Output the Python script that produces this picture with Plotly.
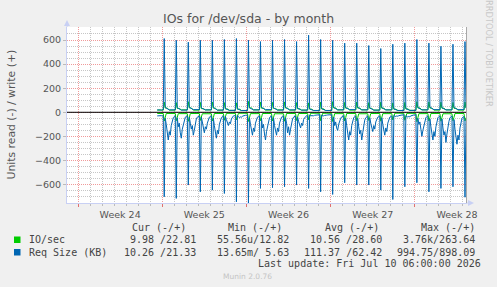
import plotly.graph_objects as go
import pandas as pd

# ---------------- data ----------------
first_sample = "2026-06-14 14:00"      # first stored sample
first_peak = "2026-06-15 04:00"        # daily peak time (one per day)
last_update = "2026-07-10 06:00"
range_start = "2026-06-07 02:00"
range_end = "2026-07-10 08:00"

# Req Size (KB): write (+) and read (-) daily peaks
req_write_peak = [612, 598, 582, 598, 598, 604, 612, 598, 587, 598, 604, 587, 640,
                  604, 598, 574, 574, 554, 529, 565, 574, 604, 574, 548, 565, 587]
req_read_peak = [701, 715, 604, 660, 646, 674, 743, 760, 632, 626, 618, 604, 632,
                 660, 682, 585, 604, 604, 646, 724, 618, 585, 660, 632, 618, 705]
# read req size between peaks, every 2 h (+2h .. +22h after each peak)
req_read_pre = [30, 28, 32, 30, 28, 30, 30]
req_read_day = [
    [50, 100, 150, 230, 160, 190, 110, 70, 45, 35, 30],
    [45, 120, 90, 170, 215, 140, 110, 60, 40, 35, 30],
    [40, 90, 140, 110, 190, 150, 80, 55, 40, 35, 30],
    [40, 80, 120, 170, 120, 140, 90, 50, 40, 35, 30],
    [50, 110, 160, 215, 150, 180, 100, 65, 45, 35, 30],
    [35, 60, 90, 110, 80, 95, 55, 40, 30, 28, 26],
    [28, 35, 45, 38, 42, 32, 28, 26, 25, 24, 24],
    [45, 100, 150, 190, 130, 160, 90, 60, 40, 35, 30],
    [50, 130, 100, 180, 230, 160, 120, 70, 45, 35, 30],
    [45, 110, 150, 190, 130, 160, 90, 60, 40, 35, 30],
    [45, 90, 170, 120, 190, 140, 80, 55, 40, 35, 30],
    [40, 75, 100, 130, 90, 110, 60, 45, 35, 30, 28],
    [24, 28, 30, 27, 29, 25, 23, 22, 21, 20, 20],
    [23, 27, 30, 26, 28, 24, 22, 21, 20, 20, 20],
    [40, 110, 80, 130, 150, 100, 70, 50, 38, 32, 28],
    [50, 110, 170, 230, 160, 190, 110, 70, 45, 35, 30],
    [50, 120, 180, 150, 230, 170, 100, 65, 45, 35, 30],
    [45, 90, 130, 160, 110, 140, 80, 55, 40, 35, 30],
    [45, 100, 150, 190, 130, 160, 90, 60, 40, 35, 30],
    [26, 32, 35, 30, 33, 28, 25, 23, 22, 21, 20],
    [28, 35, 40, 34, 38, 30, 26, 24, 22, 21, 20],
    [50, 100, 80, 140, 200, 150, 110, 70, 45, 35, 30],
    [55, 120, 170, 230, 160, 200, 120, 75, 45, 35, 30],
    [55, 130, 190, 160, 250, 180, 110, 75, 45, 35, 30],
    [60, 140, 200, 265, 190, 230, 130, 80, 50, 40, 35],
    [55],
]
req_write_pre = [20, 18, 22, 20, 18, 20, 20]
req_write_after = [40, 38, 42, 36, 40, 30, 28, 38, 40, 36, 40, 32, 28,
                   30, 40, 38, 42, 36, 38, 28, 30, 40, 42, 38, 40, 36]
req_write_base = [20, 18, 22, 20, 18, 16, 15, 20, 22, 18, 20, 18, 15,
                  15, 20, 22, 20, 18, 20, 15, 16, 20, 22, 20, 22, 20]

# IO/sec: write (+) and read (-)
io_write_pre = [18, 20, 18, 20, 18, 20, 18]
io_write_peak = [85, 80, 88, 82, 85, 80, 78, 90, 84, 82, 86, 80, 78,
                 84, 88, 82, 85, 80, 84, 78, 82, 88, 86, 84, 82, 86]
io_write_after = [35, 32, 36, 30, 34, 28, 26, 36, 34, 32, 35, 30, 26,
                  28, 36, 34, 35, 32, 34, 26, 28, 36, 35, 34, 33, 34]
io_write_base = [18, 20, 18, 20, 18, 16, 15, 20, 18, 20, 18, 18, 15,
                 15, 20, 18, 20, 18, 20, 15, 16, 20, 18, 20, 18, 20]
io_read_pre = [10, 9, 10, 11, 10, 9, 10]
io_read_peak = [72, 70, 75, 68, 72, 66, 64, 76, 70, 72, 74, 68, 62,
                70, 76, 72, 70, 68, 74, 64, 66, 78, 72, 74, 70, 72]
io_read_after = [45, 42, 46, 40, 44, 38, 36, 46, 44, 42, 45, 40, 36,
                 40, 46, 44, 45, 42, 44, 36, 38, 46, 45, 44, 42, 44]
io_read_base = [10, 11, 10, 12, 10, 9, 8, 11, 10, 12, 10, 10, 8,
                8, 11, 10, 12, 10, 11, 8, 9, 11, 10, 12, 10, 10]

# legend table
col_heads = ["Cur (-/+)", "Min (-/+)", "Avg (-/+)", "Max (-/+)"]
series_names = ["IO/sec", "Req Size (KB)"]
io_stats = ["9.98 /22.81", "55.56u/12.82", "10.56 /28.60", "3.76k/263.64"]
req_stats = ["10.26 /21.33", "13.65m/ 5.63", "111.37 /62.42", "994.75/898.09"]
update_text = "Last update: Fri Jul 10 06:00:00 2026"

GREEN = "#00cc00"
BLUE = "#0066b3"

# ---------------- build time series ----------------
H2 = pd.Timedelta(hours=2)
t0 = pd.Timestamp(first_sample)
p0 = pd.Timestamp(first_peak)
t_end = pd.Timestamp(last_update)


def build(pre, peaks, sign, after_fn):
    xs, ys = [], []
    for i, v in enumerate(pre):
        xs.append(t0 + i * H2)
        ys.append(sign * v)
    for k, pk in enumerate(peaks):
        tp = p0 + pd.Timedelta(days=k)
        xs.append(tp)
        ys.append(sign * pk)
        for off_h, v in after_fn(k):
            t = tp + pd.Timedelta(hours=off_h)
            if t <= t_end:
                xs.append(t)
                ys.append(sign * v)
    return xs, ys


req_read_x, req_read_y = build(
    req_read_pre, req_read_peak, -1,
    lambda k: [(2 * (i + 1), v) for i, v in enumerate(req_read_day[k])])
req_write_x, req_write_y = build(
    req_write_pre, req_write_peak, 1,
    lambda k: [(2, req_write_after[k]), (10, req_write_base[k]), (22, req_write_base[k])])
io_write_x, io_write_y = build(
    io_write_pre, io_write_peak, 1,
    lambda k: [(2, io_write_after[k]), (6, io_write_after[k]), (10, io_write_base[k]),
               (22, io_write_base[k])])
io_read_x, io_read_y = build(
    io_read_pre, io_read_peak, -1,
    lambda k: [(2, io_read_after[k]), (4, io_read_base[k]), (22, io_read_base[k])])

# ---------------- figure ----------------
W, HGT = 497, 287
PL, PR, PT, PB = 67, 467, 27, 203     # plot area in pixels


def fx(px):
    return (px - PL) / (PR - PL)


def fy(py):
    return (PB - py) / (PB - PT)


fig = go.Figure()
for xs, ys, c in [(io_read_x, io_read_y, GREEN), (io_write_x, io_write_y, GREEN),
                  (req_read_x, req_read_y, BLUE), (req_write_x, req_write_y, BLUE)]:
    fig.add_trace(go.Scatter(x=xs, y=ys, mode="lines",
                             line=dict(color=c, width=1), hoverinfo="skip"))

RED_GRID = "rgba(235,120,120,0.75)"
GRAY_GRID = "#c6c6c6"
AXIS = "#c8d0f4"

fig.update_layout(
    width=W, height=HGT,
    margin=dict(l=PL, r=W - PR, t=PT, b=HGT - PB, pad=0),
    paper_bgcolor="#f0f0f0", plot_bgcolor="#ffffff",
    showlegend=False,
    font=dict(family="DejaVu Sans", size=9.5, color="#555555"),
    xaxis=dict(
        type="date", range=[range_start, range_end],
        tickmode="linear", tick0="2026-06-08", dtick=7 * 86400000,
        tickformat="Week %V", ticklabelmode="period",
        showgrid=True, gridcolor=RED_GRID, griddash="1px,1px", gridwidth=1,
        ticks="outside", ticklen=3, tickcolor="#e07070",
        showline=True, linecolor=AXIS, linewidth=1, zeroline=False,
        tickfont=dict(size=9.5, color="#555555"),
        minor=dict(dtick=86400000, tick0="2026-06-08", showgrid=True,
                   gridcolor=GRAY_GRID, griddash="1px,1px",
                   ticks="outside", ticklen=2, tickcolor="#bbbbbb"),
    ),
    yaxis=dict(
        range=[-753, 708], tickmode="linear", tick0=0, dtick=200,
        showgrid=True, gridcolor=RED_GRID, griddash="1px,1px", gridwidth=1,
        ticks="outside", ticklen=3, tickcolor="#bbbbbb",
        showline=True, linecolor=AXIS, linewidth=1, zeroline=False,
        tickfont=dict(size=9.5, color="#555555"),
        minor=dict(dtick=50, showgrid=True, gridcolor=GRAY_GRID, griddash="1px,1px"),
    ),
)

shapes = [
    # zero rule
    dict(type="line", xref="paper", yref="y", x0=0, x1=1, y0=0, y1=0,
         line=dict(color="#000000", width=1), layer="above"),
    # right frame line
    dict(type="line", xref="paper", yref="paper", x0=fx(466.5), x1=fx(466.5), y0=0, y1=1,
         line=dict(color="#a8a8a8", width=1), layer="above"),
    # axis arrows
    dict(type="line", xref="paper", yref="paper", x0=0, x1=0, y0=1, y1=fy(22),
         line=dict(color=AXIS, width=1)),
    dict(type="path", xref="paper", yref="paper",
         path=f"M {fx(64)} {fy(26)} L {fx(70)} {fy(26)} L {fx(67)} {fy(20)} Z",
         fillcolor=AXIS, line=dict(width=0)),
    dict(type="line", xref="paper", yref="paper", x0=1, x1=fx(470), y0=0, y1=0,
         line=dict(color=AXIS, width=1)),
    dict(type="path", xref="paper", yref="paper",
         path=f"M {fx(468)} {fy(200)} L {fx(468)} {fy(206)} L {fx(474)} {fy(203)} Z",
         fillcolor=AXIS, line=dict(width=0)),
    # legend swatches
    dict(type="rect", xref="paper", yref="paper", x0=fx(14), x1=fx(20.5),
         y0=fy(236.5), y1=fy(243), fillcolor=GREEN, line=dict(width=0)),
    dict(type="rect", xref="paper", yref="paper", x0=fx(14), x1=fx(20.5),
         y0=fy(249), y1=fy(255.5), fillcolor=BLUE, line=dict(width=0)),
]
fig.update_layout(shapes=shapes)

MONO = dict(family="DejaVu Sans Mono", size=10, color="#444444")
ann = []


def text(s, px, py, anchor="left", font=MONO, angle=0):
    ann.append(dict(text=s, xref="paper", yref="paper", x=fx(px), y=fy(py),
                    xanchor=anchor, yanchor="middle", showarrow=False,
                    font=font, textangle=angle))


text("IOs for /dev/sda - by month", 248.5, 18.5, "center",
     dict(family="DejaVu Sans", size=12.5, color="#555555"))
text("Units read (-) / write (+)", 10.5, 115, "center",
     dict(family="DejaVu Sans", size=10.8, color="#555555"), angle=-90)
text("RRDTOOL / TOBI OETIKER", 488.5, 53.5, "center",
     dict(family="DejaVu Sans", size=8.3, color="#c8c8c8"), angle=90)

head_right = [187.5, 283.5, 380.5, 477]
for h, xr in zip(col_heads, head_right):
    text(h, xr, 227.5, "right")
text(series_names[0], 27, 239.8)
text(series_names[1], 27, 252)
val_right = [197.5, 290.5, 383.5, 477]
for s, xr in zip(io_stats, val_right):
    text(s, xr, 239.8, "right")
for s, xr in zip(req_stats, val_right):
    text(s, xr, 252, "right")
text(update_text, 482.5, 263.8, "right")
text("Munin 2.0.76", 247.5, 276, "center",
     dict(family="DejaVu Sans", size=7.5, color="#c4c4c4"))

fig.update_layout(annotations=ann)
fig.write_html("out.html")
